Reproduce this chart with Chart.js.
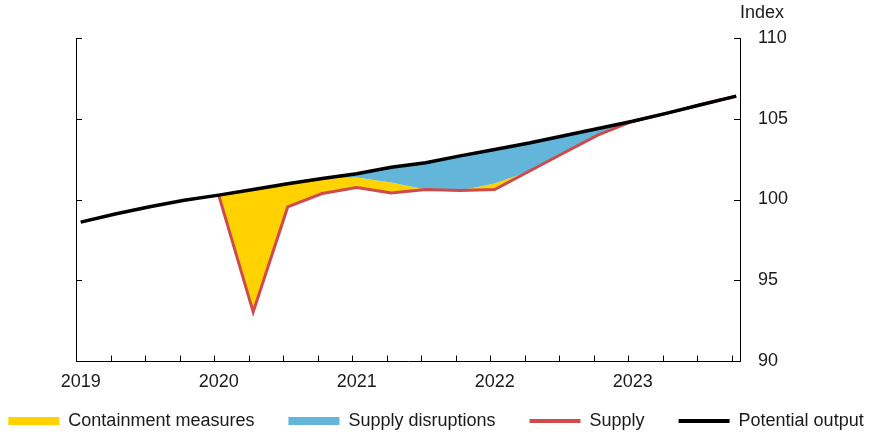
<!DOCTYPE html>
<html>
<head>
<meta charset="utf-8">
<script src="https://cdn.jsdelivr.net/npm/chart.js@4.4.1/dist/chart.umd.min.js"></script>
<style>
html,body{margin:0;padding:0;background:#fff;}
canvas{display:block;}
</style>
</head>
<body>
<canvas id="c" width="872" height="432"></canvas>
<script>
// ---- data ----
const quarters = ['2019Q1','2019Q2','2019Q3','2019Q4','2020Q1','2020Q2','2020Q3','2020Q4',
                  '2021Q1','2021Q2','2021Q3','2021Q4','2022Q1','2022Q2','2022Q3','2022Q4',
                  '2023Q1','2023Q2','2023Q3','2023Q4'];
const yearLabels = ['2019','2020','2021','2022','2023'];
const potentialOutput = [98.6, 99.1, 99.55, 99.95, 100.27, 100.62, 100.98, 101.3,
                         101.6, 102.0, 102.27, 102.7, 103.1, 103.5, 103.95, 104.4,
                         104.85, 105.35, 105.88, 106.4];
const supply = [null, null, null, null, 100.27, 93.03, 99.54, 100.37,
                100.74, 100.41, 100.62, 100.55, 100.62, 101.75, 102.88, 104.0,
                104.85, 105.35, 105.88, 106.4];
// potential output less supply disruptions (top edge of the containment-measures area)
const containmentTop = [null, null, null, null, 100.27, 100.62, 100.98, 101.3,
                        101.36, 101.05, 100.62, 100.55, 100.99, 101.75, 102.88, 104.0,
                        104.85, 105.35, 105.88, 106.4];
const yTicks = [90, 95, 100, 105, 110];

const firstSupplyIdx = supply.findIndex(v => v !== null);
const toPoints = arr => arr.map((v, i) => ({x: i, y: v}));
const disruptionsTop = potentialOutput.map((v, i) => i < firstSupplyIdx ? null : v);

const TXT = '#1a1a1a';
Chart.defaults.font.family = "'Liberation Sans', Arial, sans-serif";
Chart.defaults.font.size = 18;
Chart.defaults.color = TXT;

const axisExtras = {
  id: 'axisExtras',
  afterLayout(chart) {
    // let the x tick labels extend below the (thin) axis box so they are not clipped
    const xs = chart.scales.x;
    xs.bottom = xs.top + 40;
  },
  afterDraw(chart) {
    const ctx = chart.ctx;
    const xs = chart.scales.x, yr = chart.scales.y, yl = chart.scales.yL;
    ctx.save();
    ctx.strokeStyle = '#000';
    ctx.lineWidth = 1;
    ctx.beginPath();
    const yb = Math.round(xs.top) + 0.5;
    for (let i = 0; i < quarters.length; i++) {
      const px = Math.round(xs.getPixelForValue(i + xs.min)) + 0.5;
      ctx.moveTo(px, yb);
      ctx.lineTo(px, yb - 6);
    }
    for (const v of yTicks.slice(1)) {
      const py = Math.round(yr.getPixelForValue(v)) + 0.5;
      ctx.moveTo(yr.left, py);
      ctx.lineTo(yr.left - 6, py);
      ctx.moveTo(yl.right, py);
      ctx.lineTo(yl.right + 6, py);
    }
    ctx.stroke();
    ctx.fillStyle = TXT;
    ctx.font = "18px 'Liberation Sans', Arial, sans-serif";
    ctx.textAlign = 'left';
    ctx.textBaseline = 'alphabetic';
    ctx.fillText('Index', yr.left, 18);
    ctx.restore();
  }
};

new Chart(document.getElementById('c'), {
  type: 'line',
  data: {
    datasets: [
      {
        label: 'Containment measures',
        data: toPoints(containmentTop),
        fill: 2,
        backgroundColor: '#FFD200',
        borderColor: 'rgba(0,0,0,0)',
        borderWidth: 0,
        pointRadius: 0,
        order: 3,
        legendKind: 'box'
      },
      {
        label: 'Supply disruptions',
        data: toPoints(disruptionsTop),
        fill: 0,
        backgroundColor: '#63B5DA',
        borderColor: 'rgba(0,0,0,0)',
        borderWidth: 0,
        pointRadius: 0,
        order: 2,
        legendKind: 'box'
      },
      {
        label: 'Supply',
        data: toPoints(supply),
        fill: false,
        borderColor: '#CF4A4C',
        backgroundColor: '#CF4A4C',
        borderWidth: 3,
        pointRadius: 0,
        order: 1,
        legendKind: 'line'
      },
      {
        label: 'Potential output',
        data: toPoints(potentialOutput),
        fill: false,
        borderColor: '#000000',
        backgroundColor: '#000000',
        borderWidth: 3.5,
        pointRadius: 0,
        order: 0,
        legendKind: 'line'
      }
    ]
  },
  options: {
    responsive: false,
    animation: false,
    devicePixelRatio: 1,
    layout: { padding: { top: 38, bottom: -8, left: -30, right: -30 } },
    elements: { line: { tension: 0, borderJoinStyle: 'miter' } },
    scales: {
      x: {
        type: 'linear',
        min: -0.136,
        max: 19.11,
        grid: { display: false, drawTicks: false },
        border: { display: true, color: '#000', width: 1 },
        afterBuildTicks: s => { s.ticks = yearLabels.map((_, k) => ({ value: k * 4 })); },
        ticks: {
          autoSkip: false, maxRotation: 0, padding: 10, color: TXT,
          callback: (v, idx) => yearLabels[idx]
        },
        afterFit: s => { s.height = 17; }
      },
      y: {
        type: 'linear',
        position: 'right',
        min: 90, max: 110,
        grid: { display: false, drawTicks: false },
        border: { display: true, color: '#000', width: 1 },
        afterBuildTicks: s => { s.ticks = yTicks.map(v => ({ value: v })); },
        ticks: { padding: 18, color: TXT },
        afterFit: s => { s.width = 162; }
      },
      yL: {
        type: 'linear',
        position: 'left',
        min: 90, max: 110,
        grid: { display: false, drawTicks: false },
        border: { display: true, color: '#000', width: 1 },
        ticks: { display: false },
        afterFit: s => { s.width = 106; }
      }
    },
    plugins: {
      tooltip: { enabled: false },
      title: { display: false },
      legend: {
        position: 'bottom',
        labels: {
          usePointStyle: true,
          pointStyleWidth: 51,
          boxHeight: 8,
          padding: 34,
          color: TXT,
          font: { size: 18 },
          generateLabels: chart => chart.data.datasets.map((ds, i) => ({
            text: ds.label,
            datasetIndex: i,
            hidden: false,
            fillStyle: ds.legendKind === 'box' ? ds.backgroundColor : ds.borderColor,
            strokeStyle: ds.legendKind === 'box' ? ds.backgroundColor : ds.borderColor,
            lineWidth: ds.legendKind === 'box' ? 0 : 4,
            lineCap: 'butt',
            pointStyle: ds.legendKind === 'box' ? 'rect' : 'line',
            fontColor: TXT
          }))
        }
      }
    }
  },
  plugins: [axisExtras]
});
</script>
</body>
</html>
